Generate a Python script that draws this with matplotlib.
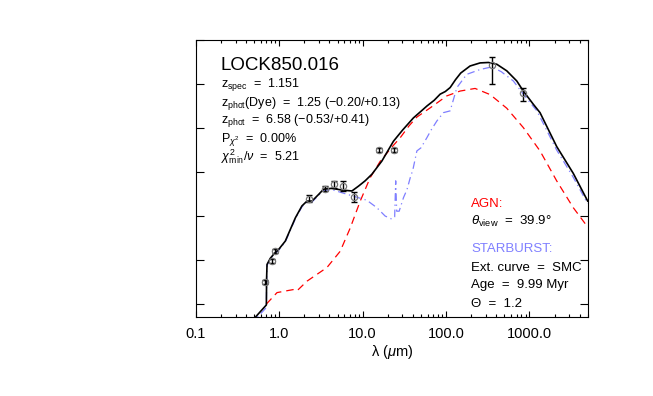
import matplotlib
matplotlib.use("Agg")
import matplotlib.pyplot as plt
from matplotlib.ticker import LogLocator, NullFormatter, FixedLocator

plt.rcParams['font.family'] = ['Liberation Sans', 'DejaVu Sans']
plt.rcParams['mathtext.fontset'] = 'custom'
plt.rcParams['mathtext.rm'] = 'Liberation Sans'
plt.rcParams['mathtext.it'] = 'Liberation Sans:italic'
plt.rcParams['mathtext.bf'] = 'Liberation Sans:bold'

# y values are log10(nu L_nu), arbitrary offset
# total SED (black)
lam_tot = [0.45, 0.516, 0.700, 0.705, 0.713, 0.781, 0.855, 0.982, 1.18, 1.36, 1.56, 1.87, 2.15, 2.47,
           2.96, 3.40, 4.28, 5.65, 7.44, 8.92, 10.7, 12.9, 17.0, 23.4, 30.0, 40.6, 50.0, 58.9, 72.0,
           85.0, 98.0, 112, 130, 150, 194, 256, 322, 406, 535, 705, 845, 1114, 1340, 2123, 3357, 5000]
y_tot = [-0.42, -0.30, -0.02, 0.60, 0.90, 1.04, 1.13, 1.24, 1.43, 1.70, 1.96, 2.23, 2.34, 2.34,
         2.49, 2.61, 2.63, 2.59, 2.57, 2.68, 2.80, 2.95, 3.25, 3.70, 3.95, 4.23, 4.38, 4.50, 4.63,
         4.77, 4.83, 4.92, 5.10, 5.25, 5.41, 5.48, 5.49, 5.45, 5.30, 5.07, 4.84, 4.54, 4.35, 3.58, 2.97, 2.34]

# starburst component (blue dash-dot)
lam_sb = [0.45, 0.516, 0.700, 0.705, 0.713, 0.781, 0.855, 0.982, 1.18, 1.36, 1.56, 1.87, 2.15, 2.47,
          2.96, 3.40, 4.28, 5.65, 7.78, 11.2, 14.8, 18.6, 22.4, 24.2, 24.9, 25.6, 27.4, 30.9, 34.0,
          37.2, 40.0, 44.7, 50.0, 58.9, 66.0, 77.6, 93.1, 112, 135, 177, 256, 354, 460, 641, 845,
          1230, 2123, 3357, 5000]
y_sb = [-0.50, -0.35, -0.08, 0.55, 0.88, 1.02, 1.12, 1.22, 1.41, 1.68, 1.94, 2.21, 2.32, 2.32,
        2.47, 2.58, 2.60, 2.53, 2.45, 2.36, 2.19, 2.00, 1.93, 1.98, 2.80, 2.11, 2.11, 2.42, 2.60,
        2.87, 3.05, 3.48, 3.55, 3.78, 3.95, 4.16, 4.35, 4.39, 4.92, 5.22, 5.33, 5.39, 5.28, 5.07, 4.77,
        4.39, 3.50, 2.88, 2.28]

# AGN torus component (red dashed)
lam_agn = [0.70, 0.94, 1.30, 1.49, 1.63, 2.15, 3.73, 5.38, 7.10, 9.35, 12.3, 16.3, 22.0, 28.2, 36.0,
           44.7, 64.7, 102, 147, 223, 338, 535, 845, 1340, 2123, 3357, 5000]
y_agn = [0.0, 0.26, 0.31, 0.33, 0.30, 0.52, 0.83, 1.20, 1.73, 2.34, 2.87, 3.25, 3.55, 3.78, 4.05,
         4.25, 4.46, 4.73, 4.84, 4.90, 4.76, 4.45, 4.01, 3.48, 2.80, 2.19, 1.75]

# photometry
lam_obs = [0.667, 0.818, 0.895, 2.25, 3.56, 4.56, 5.8, 7.93, 15.9, 23.9, 354, 845]
y_obs = [0.50, 0.98, 1.20, 2.39, 2.62, 2.72, 2.68, 2.43, 3.50, 3.50, 5.43, 4.80]
err_lo = [0.04, 0.04, 0.04, 0.08, 0.06, 0.08, 0.11, 0.11, 0.05, 0.05, 0.43, 0.19]
err_hi = [0.04, 0.04, 0.04, 0.08, 0.06, 0.08, 0.11, 0.11, 0.05, 0.05, 0.19, 0.11]

xticks = [0.1, 1, 10, 100, 1000]
xticklabels = ['0.1', '1.0', '10.0', '100.0', '1000.0']

sb_color = '#7f7fff'

fig = plt.figure(figsize=(6.53, 3.96), dpi=100)
ax = fig.add_axes([0.3, 0.2, 0.6, 0.7])

ax.plot(lam_agn, y_agn, color='red', lw=0.9, dashes=(6, 4))
ax.plot(lam_sb, y_sb, color=sb_color, lw=0.9, dashes=(6, 3, 1, 3))
ax.plot(lam_tot, y_tot, color='black', lw=1.2)
ax.errorbar(lam_obs, y_obs, yerr=[err_lo, err_hi], fmt='none', ecolor='black',
            elinewidth=1.0, capsize=2.5, capthick=1.0)
ax.plot(lam_obs, y_obs, 'o', ms=4.5, mfc='none', mec='#777777', mew=0.9)

ax.set_xscale('log')
ax.set_xlim(0.1, 5000)
ax.set_ylim(-0.29, 6.01)
ax.set_xticks(xticks)
ax.set_xticklabels(xticklabels)
ax.xaxis.set_minor_locator(LogLocator(base=10, subs=range(2, 10), numticks=20))
ax.xaxis.set_minor_formatter(NullFormatter())
ax.yaxis.set_major_locator(FixedLocator(range(0, 7)))
ax.set_yticklabels([])
ax.tick_params(axis='x', which='major', direction='in', length=4.5, width=0.8, top=True,
               labelsize=10.5, pad=7)
ax.tick_params(axis='x', which='minor', direction='in', length=2.2, width=0.8, top=True)
ax.tick_params(axis='y', which='major', direction='in', length=5.6, width=0.8, right=True)
for s in ax.spines.values():
    s.set_linewidth(0.8)

ax.set_xlabel(r'λ ($\mu$m)', fontsize=10.5, labelpad=2)

fs = 9.5   # lower right block
fs2 = 9    # upper left block
tr = ax.transAxes
ax.text(0.064, 0.890, 'LOCK850.016', fontsize=13.5, transform=tr, va='baseline')
ax.text(0.064, 0.828, r'$\mathregular{z_{spec}}$  =  1.151', fontsize=fs2, transform=tr, va='baseline')
ax.text(0.064, 0.762, r'$\mathregular{z_{phot}}$(Dye)  =  1.25 (−0.20/+0.13)', fontsize=fs2,
        transform=tr, va='baseline')
ax.text(0.064, 0.698, r'$\mathregular{z_{phot}}$  =  6.58 (−0.53/+0.41)', fontsize=fs2,
        transform=tr, va='baseline')
ax.text(0.064, 0.630, r'$\mathregular{P}_{\chi^2}$  =  0.00%', fontsize=fs2, transform=tr, va='baseline')
ax.text(0.064, 0.563, r'$\chi^2_{\mathregular{min}}/\nu$  =  5.21', fontsize=fs2, transform=tr,
        va='baseline')

ax.text(0.702, 0.395, 'AGN:', fontsize=fs, color='red', transform=tr, va='baseline')
ax.text(0.702, 0.331, r'$\theta_{\mathregular{view}}$  =  39.9°', fontsize=fs, transform=tr,
        va='baseline')
ax.text(0.702, 0.235, 'STARBURST:', fontsize=fs, color=sb_color, transform=tr, va='baseline')
ax.text(0.702, 0.166, 'Ext. curve  =  SMC', fontsize=fs, transform=tr, va='baseline')
ax.text(0.702, 0.103, 'Age  =  9.99 Myr', fontsize=fs, transform=tr, va='baseline')
ax.text(0.702, 0.036, 'Θ  =  1.2', fontsize=fs, transform=tr, va='baseline')

fig.savefig('out.png', dpi=100)
